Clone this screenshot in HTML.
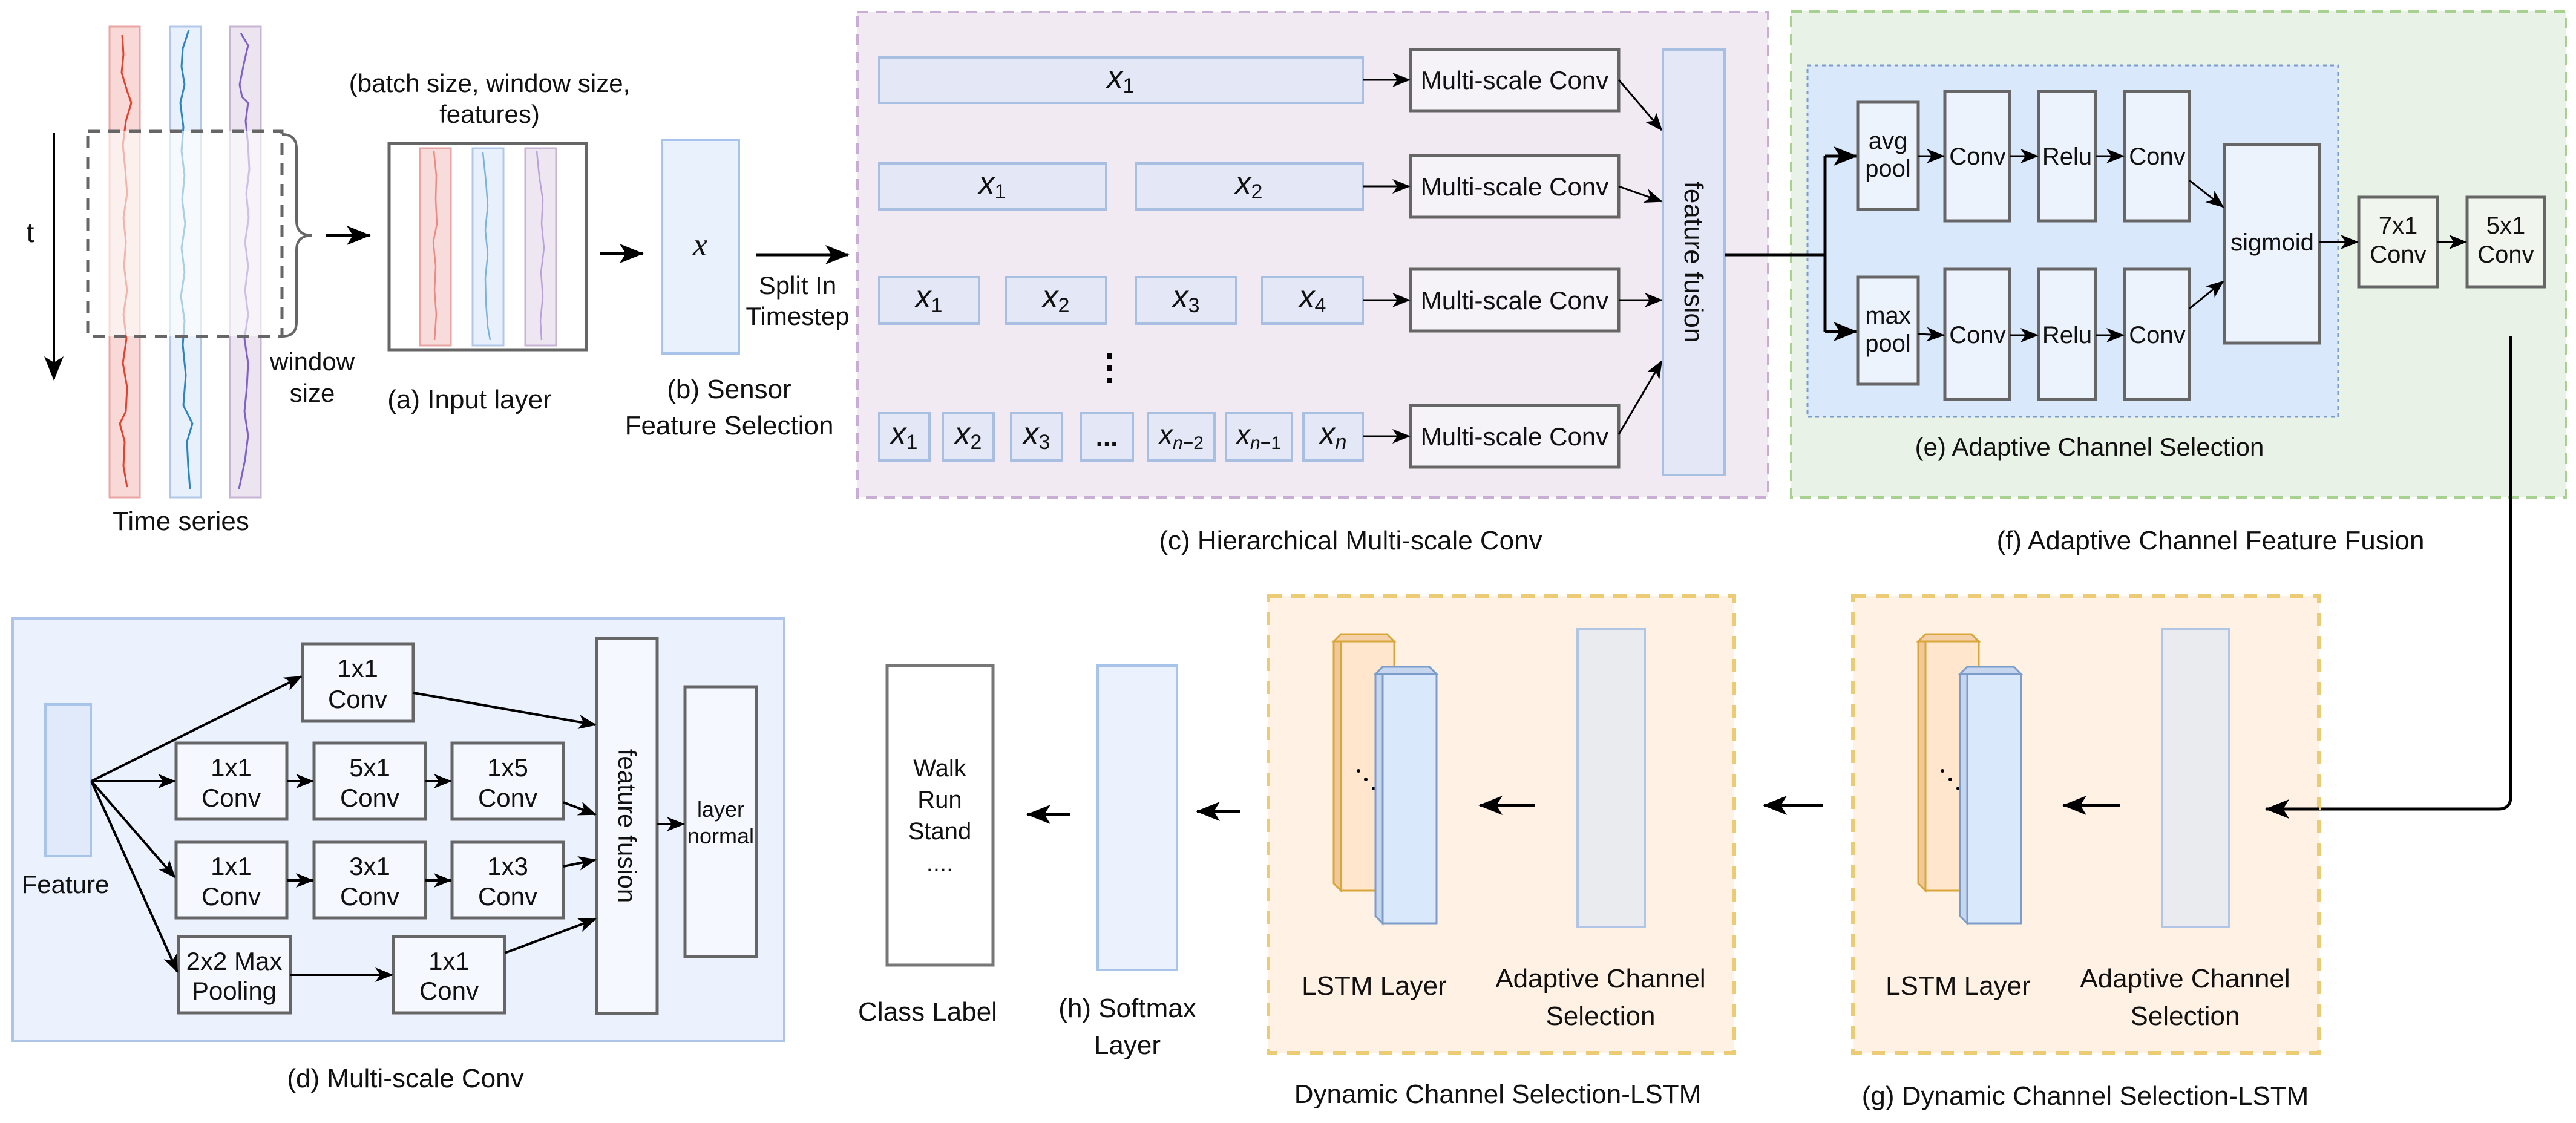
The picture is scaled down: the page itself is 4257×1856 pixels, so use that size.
<!DOCTYPE html>
<html><head><meta charset="utf-8"><style>
html,body{margin:0;padding:0;background:#fff;}
svg{display:block;}
text{font-family:"Liberation Sans",Arial,sans-serif;fill:#111;}
.m{font-family:"Liberation Serif",serif;font-style:italic;}
</style></head><body>
<svg width="4257" height="1856" viewBox="0 0 4257 1856" xmlns="http://www.w3.org/2000/svg">
<defs>
<marker id="a" markerUnits="userSpaceOnUse" markerWidth="30" markerHeight="30" viewBox="0 0 30 30" refX="28" refY="15" orient="auto"><path d="M0,3 L30,15 L0,27 L8,15 Z" fill="#000"/></marker>
<marker id="b" markerUnits="userSpaceOnUse" markerWidth="40" markerHeight="40" viewBox="0 0 40 40" refX="38" refY="20" orient="auto"><path d="M0,4 L40,20 L0,36 L10,20 Z" fill="#000"/></marker>
</defs>

<!-- time series -->
<rect x="181" y="44" width="50" height="778" fill="#f8d9d8" stroke="#e8a5a3" stroke-width="3"/>
<rect x="281" y="44" width="51" height="778" fill="#e8f0fb" stroke="#b2c8e8" stroke-width="3"/>
<rect x="380" y="44" width="51" height="778" fill="#ece4ef" stroke="#c7b3d3" stroke-width="3"/>
<polyline fill="none" stroke="#e0442f" stroke-width="3" points="202,58 204,90 201,120 210,150 217,170 208,200 203,240 207,280 210,320 204,360 208,400 205,440 210,480 204,520 209,560 203,600 210,640 208,680 198,700 206,730 204,770 210,805"/>
<polyline fill="none" stroke="#2c85c1" stroke-width="3" points="312,50 302,80 300,110 305,140 298,170 303,210 300,250 305,290 301,330 306,370 300,410 305,450 299,490 305,530 302,570 307,620 303,670 318,700 309,730 311,770 314,808"/>
<polyline fill="none" stroke="#7f62c9" stroke-width="3" points="398,55 410,75 403,105 396,140 400,160 410,170 406,200 410,240 412,280 407,320 411,360 405,400 410,440 405,480 410,520 404,560 410,600 408,640 404,680 410,720 405,760 395,808"/>
<rect x="145" y="217" width="321" height="339" fill="#fff" fill-opacity="0.6" stroke="#666" stroke-width="5" stroke-dasharray="20,14"/>
<path d="M466,222 Q490,222 490,246 L490,365 Q490,389 516,389 Q490,389 490,413 L490,532 Q490,556 466,556" fill="none" stroke="#666" stroke-width="4"/>
<line x1="89" y1="220" x2="89" y2="627" stroke="#000" stroke-width="4" marker-end="url(#b)"/>
<text x="50" y="400" font-size="46" text-anchor="middle">t</text>
<text x="299" y="876" font-size="44" text-anchor="middle">Time series</text>
<text x="516" y="612" font-size="42" text-anchor="middle">window</text>
<text x="516" y="664" font-size="42" text-anchor="middle">size</text>
<line x1="539" y1="389" x2="611" y2="389" stroke="#000" stroke-width="5" marker-end="url(#b)"/>

<!-- input layer -->
<text x="809" y="152" font-size="42" text-anchor="middle">(batch size, window size,</text>
<text x="809" y="203" font-size="42" text-anchor="middle">features)</text>
<rect x="643" y="237" width="326" height="341" fill="#fff" stroke="#666" stroke-width="5"/>
<rect x="694" y="245" width="51" height="326" fill="#f8dcdb" stroke="#e8a5a3" stroke-width="3"/>
<rect x="781" y="245" width="51" height="326" fill="#e8f0fb" stroke="#b2c8e8" stroke-width="3"/>
<rect x="868" y="245" width="51" height="326" fill="#eee6f1" stroke="#c7b3d3" stroke-width="3"/>
<polyline fill="none" stroke="#ea8a80" stroke-width="2.5" points="717,250 721,290 720,330 722,370 716,400 720,440 718,480 721,520 718,562"/>
<polyline fill="none" stroke="#7cb3da" stroke-width="2.5" points="798,252 803,300 806,340 802,380 806,420 802,460 803,500 806,540 810,562"/>
<polyline fill="none" stroke="#b9a2dc" stroke-width="2.5" points="887,250 891,290 897,330 895,370 899,410 894,450 897,490 893,530 895,562"/>
<text x="776" y="675" font-size="44" text-anchor="middle">(a) Input layer</text>
<line x1="992" y1="419" x2="1062" y2="419" stroke="#000" stroke-width="5" marker-end="url(#b)"/>

<!-- sensor -->
<rect x="1094" y="231" width="127" height="353" fill="#e9f1fc" stroke="#a9c4eb" stroke-width="4"/>
<text x="1157" y="422" font-size="54" class="m" text-anchor="middle">x</text>
<text x="1205" y="658" font-size="44" text-anchor="middle">(b) Sensor</text>
<text x="1205" y="718" font-size="44" text-anchor="middle">Feature Selection</text>
<line x1="1250" y1="421" x2="1402" y2="421" stroke="#000" stroke-width="5" marker-end="url(#b)"/>
<text x="1318" y="486" font-size="42" text-anchor="middle">Split In</text>
<text x="1318" y="537" font-size="42" text-anchor="middle">Timestep</text>

<!-- (c) -->
<rect x="1417" y="20" width="1505" height="802" fill="#f1eaf2" stroke="#c8aed3" stroke-width="4" stroke-dasharray="18,12"/>
<g fill="#e3e7f6" stroke="#a9bfe2" stroke-width="4">
<rect x="1453" y="95" width="799" height="75"/>
<rect x="1453" y="270" width="375" height="76"/><rect x="1877" y="270" width="375" height="76"/>
<rect x="1453" y="458" width="165" height="77"/><rect x="1662" y="458" width="166" height="77"/><rect x="1877" y="458" width="166" height="77"/><rect x="2086" y="458" width="166" height="77"/>
<rect x="1453" y="683" width="83" height="78"/><rect x="1558" y="683" width="84" height="78"/><rect x="1671" y="683" width="84" height="78"/><rect x="1786" y="683" width="86" height="78"/><rect x="1897" y="683" width="110" height="78"/><rect x="2026" y="683" width="109" height="78"/><rect x="2154" y="683" width="98" height="78"/>
</g>
<g font-size="52" class="m" text-anchor="middle">
<text x="1852" y="145">x<tspan font-size="34" dy="8" font-style="normal">1</tspan></text>
<text x="1640" y="320">x<tspan font-size="34" dy="8" font-style="normal">1</tspan></text>
<text x="2064" y="320">x<tspan font-size="34" dy="8" font-style="normal">2</tspan></text>
<text x="1535" y="508">x<tspan font-size="34" dy="8" font-style="normal">1</tspan></text>
<text x="1745" y="508">x<tspan font-size="34" dy="8" font-style="normal">2</tspan></text>
<text x="1960" y="508">x<tspan font-size="34" dy="8" font-style="normal">3</tspan></text>
<text x="2169" y="508">x<tspan font-size="34" dy="8" font-style="normal">4</tspan></text>
<text x="1494" y="734">x<tspan font-size="34" dy="8" font-style="normal">1</tspan></text>
<text x="1600" y="734">x<tspan font-size="34" dy="8" font-style="normal">2</tspan></text>
<text x="1713" y="734">x<tspan font-size="34" dy="8" font-style="normal">3</tspan></text>
<text x="1952" y="734" font-size="46">x<tspan font-size="30" dy="8">n</tspan><tspan font-size="30" font-style="normal">−2</tspan></text>
<text x="2080" y="734" font-size="46">x<tspan font-size="30" dy="8">n</tspan><tspan font-size="30" font-style="normal">−1</tspan></text>
<text x="2203" y="734">x<tspan font-size="34" dy="8">n</tspan></text>
</g>
<text x="1829" y="737" font-size="44" font-weight="bold" text-anchor="middle">...</text>
<g fill="#000"><rect x="1829" y="584" width="8" height="9"/><rect x="1829" y="604" width="8" height="9"/><rect x="1829" y="624" width="8" height="9"/></g>
<g fill="#f6f3f8" stroke="#666" stroke-width="5">
<rect x="2331" y="82" width="344" height="101"/><rect x="2331" y="257" width="344" height="102"/><rect x="2331" y="445" width="344" height="102"/><rect x="2331" y="670" width="344" height="102"/>
</g>
<g font-size="42" text-anchor="middle">
<text x="2503" y="147">Multi-scale Conv</text><text x="2503" y="323">Multi-scale Conv</text><text x="2503" y="511">Multi-scale Conv</text><text x="2503" y="736">Multi-scale Conv</text>
</g>
<g stroke="#000" stroke-width="3" marker-end="url(#a)">
<line x1="2252" y1="132" x2="2329" y2="132"/><line x1="2252" y1="308" x2="2329" y2="308"/><line x1="2252" y1="496" x2="2329" y2="496"/><line x1="2252" y1="721" x2="2329" y2="721"/>
<line x1="2675" y1="132" x2="2746" y2="215"/><line x1="2675" y1="308" x2="2746" y2="333"/><line x1="2675" y1="496" x2="2746" y2="496"/><line x1="2675" y1="718" x2="2746" y2="597"/>
</g>
<rect x="2748" y="82" width="102" height="703" fill="#e3e7f6" stroke="#a9bfe2" stroke-width="4"/>
<text transform="translate(2784,433) rotate(90)" font-size="44" text-anchor="middle">feature fusion</text>
<text x="2232" y="908" font-size="44" text-anchor="middle">(c) Hierarchical Multi-scale Conv</text>

<!-- (f) -->
<rect x="2960" y="19" width="1280" height="803" fill="#e9f2e6" stroke="#a8d08f" stroke-width="4" stroke-dasharray="18,12"/>
<rect x="2987" y="108" width="877" height="581" fill="#dae8fc" stroke="#7c9cc9" stroke-width="3" stroke-dasharray="6,6"/>
<path d="M2850,421 L3016,421 M3016,258 L3016,548" stroke="#000" stroke-width="5" fill="none"/>
<line x1="3016" y1="258" x2="3068" y2="258" stroke="#000" stroke-width="5" marker-end="url(#b)"/>
<line x1="3016" y1="548" x2="3068" y2="548" stroke="#000" stroke-width="5" marker-end="url(#b)"/>
<g fill="#edf3fd" stroke="#666" stroke-width="5">
<rect x="3070" y="169" width="100" height="177"/><rect x="3214" y="151" width="107" height="214"/><rect x="3369" y="151" width="94" height="214"/><rect x="3511" y="151" width="107" height="214"/>
<rect x="3070" y="458" width="100" height="177"/><rect x="3214" y="445" width="107" height="215"/><rect x="3369" y="445" width="94" height="215"/><rect x="3511" y="445" width="107" height="215"/>
<rect x="3676" y="239" width="157" height="328"/>
</g>
<g fill="#f0f6ee" stroke="#666" stroke-width="5"><rect x="3898" y="326" width="130" height="148"/><rect x="4077" y="326" width="128" height="148"/></g>
<g font-size="40" text-anchor="middle">
<text x="3120" y="246">avg</text><text x="3120" y="292">pool</text>
<text x="3120" y="535">max</text><text x="3120" y="581">pool</text>
<text x="3268" y="272">Conv</text><text x="3416" y="272">Relu</text><text x="3565" y="272">Conv</text>
<text x="3268" y="567">Conv</text><text x="3416" y="567">Relu</text><text x="3565" y="567">Conv</text>
<text x="3755" y="414">sigmoid</text>
<text x="3963" y="386">7x1</text><text x="3963" y="434">Conv</text>
<text x="4141" y="386">5x1</text><text x="4141" y="434">Conv</text>
</g>
<g stroke="#000" stroke-width="3" marker-end="url(#a)">
<line x1="3170" y1="258" x2="3212" y2="258"/><line x1="3321" y1="258" x2="3367" y2="258"/><line x1="3463" y1="258" x2="3509" y2="258"/>
<line x1="3170" y1="552" x2="3212" y2="554"/><line x1="3321" y1="554" x2="3367" y2="554"/><line x1="3463" y1="554" x2="3509" y2="554"/>
<line x1="3618" y1="298" x2="3674" y2="342"/><line x1="3618" y1="510" x2="3674" y2="465"/>
<line x1="3833" y1="400" x2="3896" y2="400"/><line x1="4028" y1="400" x2="4075" y2="400"/>
</g>
<text x="3453" y="753" font-size="42" text-anchor="middle">(e) Adaptive Channel Selection</text>
<text x="3653" y="908" font-size="44" text-anchor="middle">(f) Adaptive Channel Feature Fusion</text>
<path d="M4149,556 L4149,1317 Q4149,1337 4129,1337 L3745,1337" fill="none" stroke="#000" stroke-width="5" marker-end="url(#b)"/>

<!-- (d) -->
<rect x="21" y="1022" width="1275" height="698" fill="#ebf2fd" stroke="#adc5e8" stroke-width="4"/>
<rect x="75" y="1164" width="75" height="251" fill="#e1eafb" stroke="#a9c4eb" stroke-width="4"/>
<text x="108" y="1476" font-size="42" text-anchor="middle">Feature</text>
<g fill="#f5f8fe" stroke="#666" stroke-width="5">
<rect x="500" y="1064" width="183" height="128"/>
<rect x="291" y="1228" width="183" height="126"/><rect x="519" y="1228" width="184" height="126"/><rect x="747" y="1228" width="184" height="126"/>
<rect x="291" y="1392" width="183" height="125"/><rect x="519" y="1392" width="184" height="125"/><rect x="747" y="1392" width="184" height="125"/>
<rect x="295" y="1548" width="185" height="126"/><rect x="650" y="1548" width="184" height="126"/>
<rect x="986" y="1055" width="100" height="620"/>
<rect x="1132" y="1135" width="118" height="446"/>
</g>
<g font-size="42" text-anchor="middle">
<text x="591" y="1119">1x1</text><text x="591" y="1170">Conv</text>
<text x="382" y="1283">1x1</text><text x="382" y="1333">Conv</text>
<text x="611" y="1283">5x1</text><text x="611" y="1333">Conv</text>
<text x="839" y="1283">1x5</text><text x="839" y="1333">Conv</text>
<text x="382" y="1446">1x1</text><text x="382" y="1496">Conv</text>
<text x="611" y="1446">3x1</text><text x="611" y="1496">Conv</text>
<text x="839" y="1446">1x3</text><text x="839" y="1496">Conv</text>
<text x="387" y="1603">2x2 Max</text><text x="387" y="1652">Pooling</text>
<text x="742" y="1603">1x1</text><text x="742" y="1652">Conv</text>
</g>
<text x="1191" y="1350" font-size="36" text-anchor="middle">layer</text>
<text x="1191" y="1394" font-size="36" text-anchor="middle">normal</text>
<text transform="translate(1022,1365) rotate(90)" font-size="42" text-anchor="middle">feature fusion</text>
<g stroke="#000" stroke-width="4" marker-end="url(#a)">
<line x1="151" y1="1291" x2="498" y2="1118"/><line x1="151" y1="1291" x2="289" y2="1291"/><line x1="151" y1="1291" x2="289" y2="1450"/><line x1="151" y1="1291" x2="293" y2="1606"/>
<line x1="474" y1="1291" x2="517" y2="1291"/><line x1="703" y1="1291" x2="745" y2="1291"/>
<line x1="474" y1="1455" x2="517" y2="1455"/><line x1="703" y1="1455" x2="745" y2="1455"/>
<line x1="480" y1="1611" x2="648" y2="1611"/>
<line x1="683" y1="1145" x2="984" y2="1198"/><line x1="931" y1="1326" x2="984" y2="1346"/><line x1="931" y1="1432" x2="984" y2="1421"/><line x1="834" y1="1575" x2="984" y2="1519"/>
<line x1="1086" y1="1362" x2="1130" y2="1362"/>
</g>
<text x="670" y="1797" font-size="44" text-anchor="middle">(d) Multi-scale Conv</text>

<!-- class / softmax -->
<rect x="1466" y="1100" width="175" height="495" fill="#fff" stroke="#777" stroke-width="5"/>
<g font-size="40" text-anchor="middle"><text x="1553" y="1283">Walk</text><text x="1553" y="1335">Run</text><text x="1553" y="1387">Stand</text><text x="1553" y="1440">....</text></g>
<rect x="1814" y="1100" width="131" height="503" fill="#ebf2fd" stroke="#a9c4eb" stroke-width="4"/>
<g stroke="#000" stroke-width="4" marker-end="url(#b)">
<line x1="1768" y1="1346" x2="1698" y2="1346"/><line x1="2049" y1="1341" x2="1978" y2="1341"/>
<line x1="2536" y1="1331" x2="2445" y2="1331"/><line x1="3012" y1="1331" x2="2915" y2="1331"/>
</g>
<text x="1533" y="1687" font-size="44" text-anchor="middle">Class Label</text>
<text x="1863" y="1681" font-size="44" text-anchor="middle">(h) Softmax</text>
<text x="1863" y="1742" font-size="44" text-anchor="middle">Layer</text>

<!-- DCS-LSTM 1 -->
<rect x="2096" y="985" width="770" height="755" fill="#fff2e4" stroke="#eccb75" stroke-width="6" stroke-dasharray="22,16"/>
<path d="M2204,1060 L2216,1048 L2292,1048 L2304,1060 Z" fill="#f4d1a8" stroke="#d8a63a" stroke-width="3"/>
<path d="M2204,1060 L2216,1060 L2216,1472 L2204,1460 Z" fill="#f0c89b" stroke="#d8a63a" stroke-width="3"/>
<rect x="2216" y="1060" width="88" height="412" fill="#ffe6cc" stroke="#d8a63a" stroke-width="3"/>
<g fill="#000"><circle cx="2245" cy="1274" r="3"/><circle cx="2257" cy="1288" r="3"/><circle cx="2270" cy="1303" r="3"/></g>
<path d="M2273,1114 L2285,1102 L2362,1102 L2374,1114 Z" fill="#c6d6ee" stroke="#7c9cc9" stroke-width="3"/>
<path d="M2273,1114 L2285,1114 L2285,1526 L2273,1514 Z" fill="#c6d6ee" stroke="#7c9cc9" stroke-width="3"/>
<rect x="2285" y="1114" width="89" height="412" fill="#dae8fc" stroke="#7c9cc9" stroke-width="3"/>
<rect x="2607" y="1040" width="111" height="492" fill="#eaebee" stroke="#b1c5e6" stroke-width="4"/>
<line x1="2536" y1="1331" x2="2445" y2="1331" stroke="#000" stroke-width="4" marker-end="url(#b)"/>
<text x="2271" y="1644" font-size="44" text-anchor="middle">LSTM Layer</text>
<text x="2645" y="1632" font-size="44" text-anchor="middle">Adaptive Channel</text>
<text x="2645" y="1694" font-size="44" text-anchor="middle">Selection</text>
<text x="2475" y="1823" font-size="44" text-anchor="middle">Dynamic Channel Selection-LSTM</text>

<!-- DCS-LSTM 2 -->
<rect x="3062" y="985" width="770" height="755" fill="#fff2e4" stroke="#eccb75" stroke-width="6" stroke-dasharray="22,16"/>
<path d="M3170,1060 L3182,1048 L3258,1048 L3270,1060 Z" fill="#f4d1a8" stroke="#d8a63a" stroke-width="3"/>
<path d="M3170,1060 L3182,1060 L3182,1472 L3170,1460 Z" fill="#f0c89b" stroke="#d8a63a" stroke-width="3"/>
<rect x="3182" y="1060" width="88" height="412" fill="#ffe6cc" stroke="#d8a63a" stroke-width="3"/>
<g fill="#000"><circle cx="3210" cy="1274" r="3"/><circle cx="3223" cy="1288" r="3"/><circle cx="3236" cy="1303" r="3"/></g>
<path d="M3239,1114 L3251,1102 L3328,1102 L3340,1114 Z" fill="#c6d6ee" stroke="#7c9cc9" stroke-width="3"/>
<path d="M3239,1114 L3251,1114 L3251,1526 L3239,1514 Z" fill="#c6d6ee" stroke="#7c9cc9" stroke-width="3"/>
<rect x="3251" y="1114" width="89" height="412" fill="#dae8fc" stroke="#7c9cc9" stroke-width="3"/>
<rect x="3573" y="1040" width="111" height="492" fill="#eaebee" stroke="#b1c5e6" stroke-width="4"/>
<line x1="3503" y1="1331" x2="3410" y2="1331" stroke="#000" stroke-width="4" marker-end="url(#b)"/>
<path d="M3832,1337 L3745,1337" stroke="#000" stroke-width="5" marker-end="url(#b)"/>
<text x="3236" y="1644" font-size="44" text-anchor="middle">LSTM Layer</text>
<text x="3611" y="1632" font-size="44" text-anchor="middle">Adaptive Channel</text>
<text x="3611" y="1694" font-size="44" text-anchor="middle">Selection</text>
<text x="3446" y="1826" font-size="44" text-anchor="middle">(g) Dynamic Channel Selection-LSTM</text>
</svg>
</body></html>
